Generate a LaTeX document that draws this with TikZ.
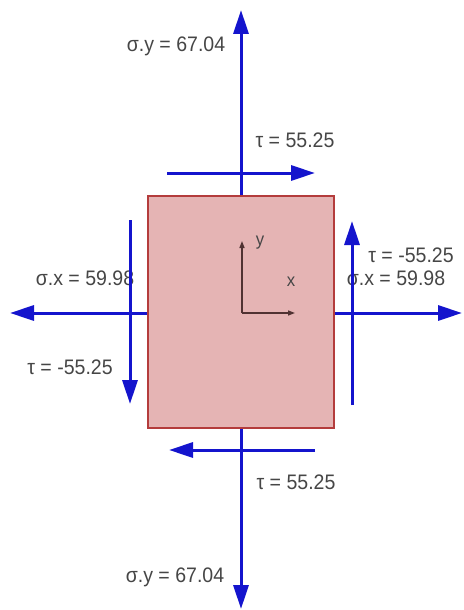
\documentclass[tikz,border=0pt]{standalone}
\usepackage{fontspec}
\setmainfont{Liberation Sans}
\usetikzlibrary{arrows.meta}
\definecolor{plfill}{RGB}{229,180,180}
\definecolor{pldraw}{RGB}{180,60,60}
\definecolor{arblue}{RGB}{20,20,205}
\definecolor{txtgray}{RGB}{70,70,70}
\definecolor{axcol}{RGB}{80,50,50}
\tikzset{
  plate/.style={draw=pldraw, fill=plfill, line width=2pt, minimum width=186pt, minimum height=232pt, inner sep=0pt},
  force/.style={draw=arblue, line width=3pt, -{Triangle[length=24pt,width=15pt]}},
  axis/.style={draw=axcol, line width=1.5pt, -{Triangle[length=7pt,width=5pt]}},
  lbl/.style={text=txtgray, font=\fontsize{21}{21}\selectfont, xscale=0.93, inner sep=0pt},
  axl/.style={text=txtgray, font=\fontsize{18}{18}\selectfont, xscale=0.93, inner sep=0pt}
}
\begin{document}
\begin{tikzpicture}[x=1pt,y=-1pt]
\useasboundingbox (0,0) rectangle (463,610);
\node[plate] (pl) at (241,312) {};
% axes
\coordinate (o) at (242,313);
\coordinate (ya) at (242,241);
\coordinate (xa) at (295,313);
\draw[axis] (o) -- (ya);
\draw[axis] (o) -- (xa);
\node[axl] (ly) at (260,243) {y};
\node[axl] (lx) at (291,282) {x};
% labels
\node[lbl] (syt) at (176,46) {σ.y = 67.04};
\node[lbl] (tt) at (295,140) {τ = 55.25};
\node[lbl] (sxl) at (85,278) {σ.x = 59.98};
\node[lbl] (tl) at (70,367) {τ = -55.25};
\node[lbl] (tr) at (411,255) {τ = -55.25};
\node[lbl] (sxr) at (396,278) {σ.x = 59.98};
\node[lbl] (tb) at (296,482) {τ = 55.25};
\node[lbl] (syb) at (175,577) {σ.y = 67.04};
% arrow endpoints
\coordinate (ytop) at (241,10);
\coordinate (ybot) at (241,609);
\coordinate (xl) at (10,313);
\coordinate (xr) at (462,313);
\coordinate (tts) at (167,173);
\coordinate (tte) at (315,173);
\coordinate (tls) at (130,220);
\coordinate (tle) at (130,404);
\coordinate (trs) at (352,405);
\coordinate (tre) at (352,221);
\coordinate (tbs) at (315,450);
\coordinate (tbe) at (169,450);
% forces
\draw[force] (pl.north) -- (ytop);
\draw[force] (pl.south) -- (ybot);
\draw[force] (pl.west |- xl) -- (xl);
\draw[force] (pl.east |- xr) -- (xr);
\draw[force] (tts) -- (tte);
\draw[force] (tls) -- (tle);
\draw[force] (trs) -- (tre);
\draw[force] (tbs) -- (tbe);
\end{tikzpicture}
\end{document}
